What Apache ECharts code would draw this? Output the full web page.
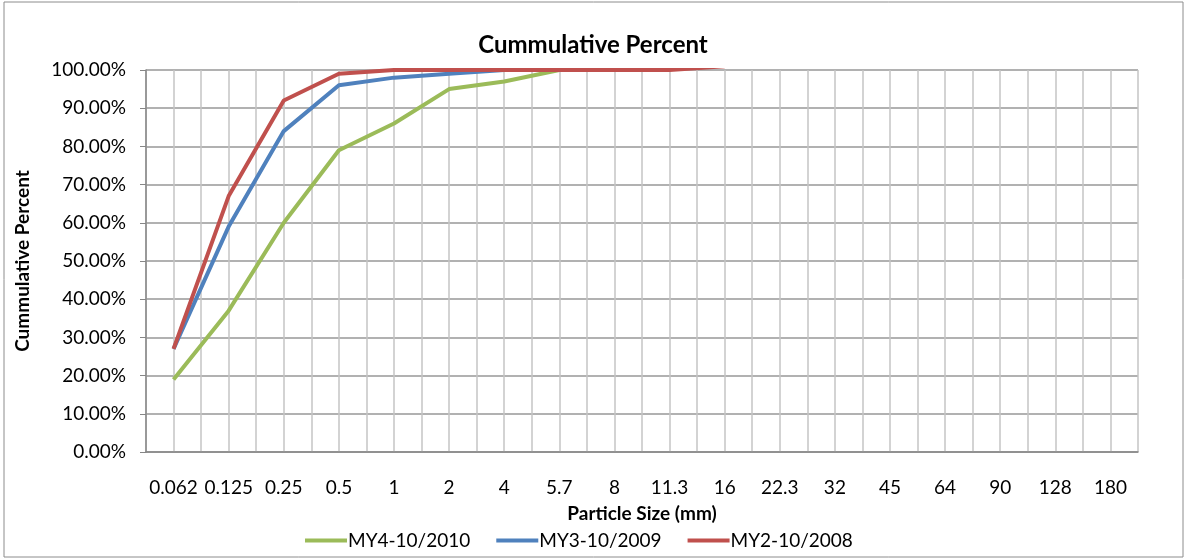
<!DOCTYPE html>
<html>
<head>
<meta charset="utf-8">
<script src="https://cdn.jsdelivr.net/npm/echarts@6/dist/echarts.min.js"></script>
<style>
	html, body { margin: 0; padding: 0; background: #fff; }
	#chart { width: 1186px; height: 559px; }
</style>
</head>
<body>
<div id="chart"></div>
<script>
// particle size classes (mm)
const sizes = ['0.062', '0.125', '0.25', '0.5', '1', '2', '4', '5.7', '8', '11.3', '16', '22.3', '32', '45', '64', '90', '128', '180']
// cumulative percent per survey
const my4 = [19, 37, 60, 79, 86, 95, 97, 100, 100, 100]
const my3 = [27, 59, 84, 96, 98, 99, 100, 100, 100, 100]
const my2 = [27, 67, 92, 99, 100, 100, 100, 100, 100, 100, 101]
const yTicks = [0, 100, 10] // min, max, step

const font = 'Lato, "Noto Sans", sans-serif'

const initChart = () => {
	const chartDom = document.getElementById('chart')
	const myChart = echarts.init(chartDom)
	const options = {
		animation: false,
		textStyle: { fontFamily: font },
		title: {
			text: 'Cummulative Percent',
			left: 'center',
			top: 28,
			textStyle: { fontSize: 24, fontWeight: 'bold', color: '#000', fontFamily: font }
		},
		legend: {
			data: ['MY4-10/2010', 'MY3-10/2009', 'MY2-10/2008'],
			left: 300,
			top: 526,
			itemWidth: 42,
			itemHeight: 4,
			itemGap: 26,
			icon: 'rect',
			textStyle: { fontSize: 19, color: '#000', fontFamily: font, padding: [0, 0, 0, -4] }
		},
		graphic: [
			{
				type: 'rect',
				shape: { x: 4, y: 2, width: 1179, height: 555 },
				style: { fill: 'none', stroke: '#8c8c8c', lineWidth: 1 },
				silent: true
			}
		],
		grid: {
			left: 146,
			right: 48,
			top: 70,
			bottom: 107
		},
		xAxis: [
			{
				type: 'category',
				data: sizes,
				boundaryGap: true,
				name: 'Particle Size (mm)',
				nameLocation: 'middle',
				nameGap: 52,
				nameTextStyle: { fontSize: 19, fontWeight: 'bold', color: '#000' },
				axisLine: { lineStyle: { color: '#868686', width: 1.5 } },
				axisTick: { show: false },
				axisLabel: { color: '#000', fontSize: 19, margin: 26, interval: 0 },
				splitLine: { show: false }
			},
			{
				// half-category grid lines
				type: 'value',
				min: 0,
				max: sizes.length * 2,
				interval: 1,
				show: true,
				axisLine: { show: false },
				axisTick: { show: false },
				axisLabel: { show: false },
				splitLine: { show: true, lineStyle: { color: '#c4c4c4', width: 1.5 } }
			}
		],
		yAxis: {
			type: 'value',
			min: yTicks[0],
			max: yTicks[1],
			interval: yTicks[2],
			name: 'Cummulative Percent',
			nameLocation: 'middle',
			nameGap: 114,
			nameTextStyle: { fontSize: 19, fontWeight: 'bold', color: '#000' },
			axisLine: { show: true, lineStyle: { color: '#868686', width: 1.5 } },
			axisTick: { show: true, length: 6, lineStyle: { color: '#868686' } },
			axisLabel: {
				color: '#000',
				fontSize: 19,
				margin: 20,
				formatter: v => v.toFixed(2) + '%'
			},
			splitLine: { show: true, lineStyle: { color: '#979797', width: 1.5 } }
		},
		series: [
			{
				name: 'MY4-10/2010',
				type: 'line',
				data: my4,
				showSymbol: false,
				symbol: 'none',
				lineStyle: { color: '#9bbb59', width: 4 },
				itemStyle: { color: '#9bbb59' }
			},
			{
				name: 'MY3-10/2009',
				type: 'line',
				data: my3,
				showSymbol: false,
				symbol: 'none',
				lineStyle: { color: '#4f81bd', width: 4 },
				itemStyle: { color: '#4f81bd' }
			},
			{
				name: 'MY2-10/2008',
				type: 'line',
				data: my2,
				showSymbol: false,
				symbol: 'none',
				lineStyle: { color: '#c0504d', width: 4 },
				itemStyle: { color: '#c0504d' }
			}
		]
	}

	myChart.setOption(options)
	return myChart
}
initChart()
</script>
</body>
</html>
